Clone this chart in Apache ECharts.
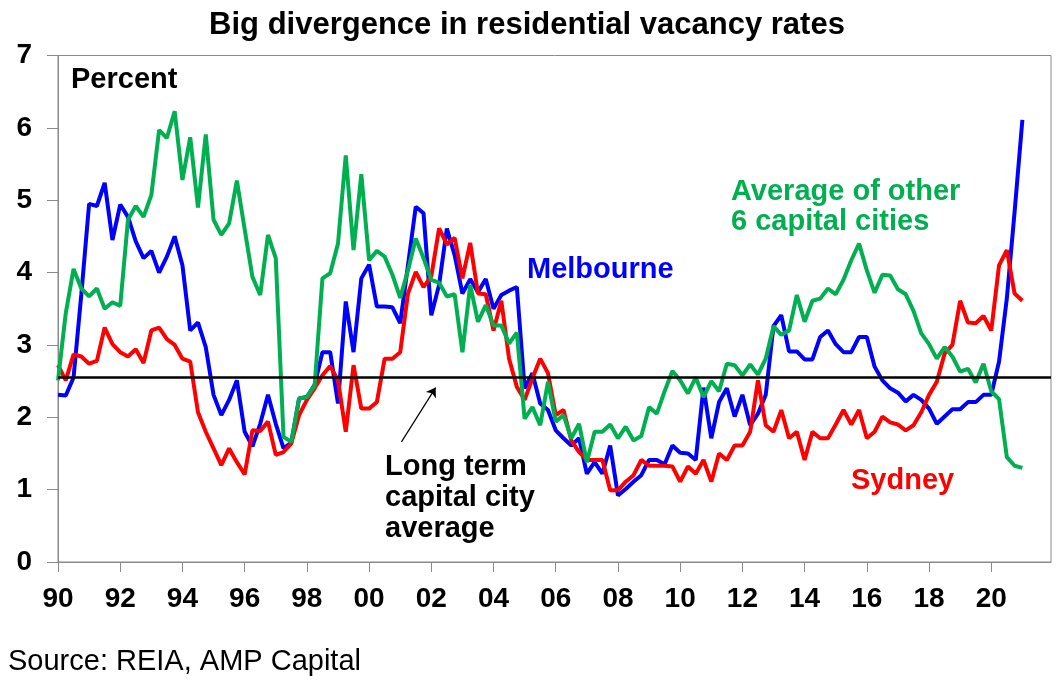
<!DOCTYPE html>
<html>
<head>
<meta charset="utf-8">
<script src="https://cdn.jsdelivr.net/npm/echarts@6.0.0/dist/echarts.min.js"></script>
<style>
  html, body { margin: 0; padding: 0; background: #fff; }
  #chart { width: 1062px; height: 687px; }
</style>
</head>
<body>
<div id="chart"></div>
<script>
// quarterly readings, first one is March quarter 1990
const startYear = 1990;

const melbourne = [
  2.31, 2.30, 2.55, 3.70, 4.95, 4.92, 5.24, 4.45, 4.94, 4.77,
  4.43, 4.20, 4.30, 4.00, 4.22, 4.50, 4.10, 3.20, 3.31, 2.97,
  2.31, 2.03, 2.24, 2.51, 1.80, 1.60, 1.91, 2.31, 1.91, 1.57,
  1.65, 2.26, 2.28, 2.45, 2.90, 2.90, 2.19, 3.60, 2.90, 3.92,
  4.11, 3.53, 3.53, 3.52, 3.30, 4.10, 4.91, 4.82, 3.41, 3.83,
  4.61, 4.24, 3.71, 3.91, 3.73, 3.91, 3.50, 3.69, 3.75, 3.80,
  2.40, 2.61, 2.19, 2.10, 1.82, 1.71, 1.61, 1.71, 1.22, 1.38,
  1.22, 1.61, 0.92, 1.01, 1.11, 1.20, 1.41, 1.41, 1.35, 1.61,
  1.51, 1.50, 1.41, 2.41, 1.71, 2.21, 2.40, 2.01, 2.31, 1.89,
  2.05, 2.31, 3.26, 3.41, 2.91, 2.91, 2.80, 2.80, 3.11, 3.20,
  3.01, 2.90, 2.90, 3.11, 3.11, 2.70, 2.51, 2.40, 2.34, 2.22,
  2.31, 2.24, 2.12, 1.91, 2.01, 2.11, 2.11, 2.21, 2.21, 2.31,
  2.31, 2.77, 3.64, 4.84, 6.11
];

const sydney = [
  2.72, 2.51, 2.87, 2.84, 2.74, 2.78, 3.24, 3.01, 2.90, 2.84,
  2.94, 2.75, 3.20, 3.24, 3.08, 3.00, 2.81, 2.77, 2.07, 1.80,
  1.57, 1.34, 1.57, 1.38, 1.21, 1.82, 1.81, 1.94, 1.48, 1.52,
  1.64, 2.03, 2.24, 2.40, 2.58, 2.71, 2.51, 1.80, 2.72, 2.12,
  2.12, 2.21, 2.81, 2.81, 2.90, 3.71, 4.01, 3.80, 3.95, 4.61,
  4.39, 4.48, 3.92, 4.41, 3.71, 3.70, 3.20, 3.61, 2.81, 2.42,
  2.24, 2.54, 2.81, 2.61, 2.03, 2.10, 1.68, 1.52, 1.41, 1.41,
  1.41, 0.99, 0.99, 1.11, 1.20, 1.41, 1.33, 1.33, 1.33, 1.32,
  1.11, 1.32, 1.22, 1.41, 1.11, 1.50, 1.41, 1.61, 1.61, 1.80,
  2.51, 1.89, 1.80, 2.10, 1.71, 1.80, 1.41, 1.80, 1.71, 1.71,
  1.90, 2.10, 1.90, 2.10, 1.71, 1.80, 2.01, 1.93, 1.90, 1.82,
  1.89, 2.07, 2.31, 2.49, 2.88, 3.00, 3.61, 3.31, 3.30, 3.40,
  3.20, 4.10, 4.31, 3.71, 3.61
];

const otherCapitals = [
  2.51, 3.44, 4.05, 3.78, 3.67, 3.78, 3.50, 3.59, 3.54, 4.73,
  4.92, 4.77, 5.07, 5.97, 5.86, 6.23, 5.28, 5.87, 4.90, 5.91,
  4.73, 4.52, 4.68, 5.27, 4.60, 3.94, 3.69, 4.52, 4.20, 1.73,
  1.66, 2.26, 2.28, 2.44, 3.92, 3.99, 4.40, 5.62, 4.31, 5.36,
  4.17, 4.30, 4.22, 3.97, 3.65, 4.03, 4.47, 4.20, 3.90, 3.86,
  3.67, 3.70, 2.90, 3.83, 3.32, 3.55, 3.27, 3.27, 3.02, 3.17,
  1.98, 2.14, 1.89, 2.49, 1.94, 2.03, 1.71, 1.91, 1.38, 1.80,
  1.80, 1.90, 1.71, 1.87, 1.68, 1.74, 2.14, 2.05, 2.36, 2.64,
  2.51, 2.33, 2.55, 2.28, 2.50, 2.36, 2.74, 2.72, 2.58, 2.73,
  2.59, 2.81, 3.26, 3.14, 3.20, 3.69, 3.32, 3.61, 3.64, 3.78,
  3.70, 3.90, 4.17, 4.40, 4.03, 3.72, 3.97, 3.96, 3.77, 3.70,
  3.47, 3.16, 3.01, 2.81, 2.97, 2.84, 2.63, 2.67, 2.48, 2.74,
  2.36, 2.25, 1.45, 1.33, 1.30
];

const longTermAverage = 2.55;
const arrowFrom = [2001.04, 1.66];
const arrowTo = [2002.14, 2.41];

const FONT = '"Liberation Sans", Arial, sans-serif';

function withYears(values) {
  return values.map((v, i) => [startYear + i * 0.25, v]);
}

const chart = echarts.init(document.getElementById('chart'));

const option = {
  animation: false,
  backgroundColor: '#fff',
  grid: {
    left: 58, top: 55.5, right: 11, bottom: 125,
    show: true, borderColor: '#8a8a8a', borderWidth: 1,
    backgroundColor: 'transparent',
  },
  xAxis: {
    type: 'value',
    min: 1990, max: 2021.92, interval: 2,
    axisLine: { lineStyle: { color: '#8a8a8a', width: 1 } },
    axisTick: { show: true, length: 10, lineStyle: { color: '#8a8a8a' } },
    splitLine: { show: false },
    axisLabel: {
      margin: 23,
      color: '#000',
      fontFamily: FONT, fontWeight: 'bold', fontSize: 28,
      showMaxLabel: false,
      formatter: (v) => (Number.isInteger(v) && v % 2 === 0) ? String(v % 100).padStart(2, '0') : '',
    },
  },
  yAxis: {
    type: 'value',
    min: 0, max: 7, interval: 1,
    axisLine: { show: true, lineStyle: { color: '#8a8a8a', width: 1 } },
    axisTick: { show: true, length: 11, lineStyle: { color: '#8a8a8a' } },
    splitLine: { show: false },
    axisLabel: {
      margin: 26,
      color: '#000',
      fontFamily: FONT, fontWeight: 'bold', fontSize: 28,
    },
  },
  series: [
    {
      name: 'Melbourne',
      type: 'line',
      data: withYears(melbourne),
      showSymbol: false,
      lineStyle: { color: '#0000ff', width: 4 },
      itemStyle: { color: '#0000ff' },
      z: 2,
    },
    {
      name: 'Sydney',
      type: 'line',
      data: withYears(sydney),
      showSymbol: false,
      lineStyle: { color: '#ff0000', width: 4 },
      itemStyle: { color: '#ff0000' },
      z: 3,
    },
    {
      name: 'Average of other 6 capital cities',
      type: 'line',
      data: withYears(otherCapitals),
      showSymbol: false,
      lineStyle: { color: '#00b050', width: 4 },
      itemStyle: { color: '#00b050' },
      z: 4,
      markLine: {
        silent: true,
        symbol: ['none', 'none'],
        label: { show: false },
        data: [
          {
            yAxis: longTermAverage,
            lineStyle: { color: '#000', width: 2.5, type: 'solid' },
          },
          [
            { coord: arrowFrom, symbol: 'none' },
            { coord: arrowTo, symbol: 'arrow', symbolSize: 9 },
          ],
        ],
        lineStyle: { color: '#000', width: 1.2, type: 'solid' },
        z: 5,
      },
    },
  ],
  graphic: [
    {
      type: 'text', x: 527, y: 25, z: 10,
      style: {
        text: 'Big divergence in residential vacancy rates',
        font: 'bold 31px ' + FONT, fill: '#000', align: 'center', verticalAlign: 'middle',
      },
    },
    {
      type: 'text', x: 71, y: 80, z: 10,
      style: { text: 'Percent', font: 'bold 29px ' + FONT, fill: '#000', align: 'left', verticalAlign: 'middle' },
    },
    {
      type: 'text', x: 527, y: 270, z: 10,
      style: { text: 'Melbourne', font: 'bold 29px ' + FONT, fill: '#0000ff', align: 'left', verticalAlign: 'middle' },
    },
    {
      type: 'text', x: 731, y: 207, z: 10,
      style: {
        text: 'Average of other\n6 capital cities', lineHeight: 30,
        font: 'bold 29px ' + FONT, fill: '#00b050', align: 'left', verticalAlign: 'middle',
      },
    },
    {
      type: 'text', x: 851, y: 481, z: 10,
      style: { text: 'Sydney', font: 'bold 29px ' + FONT, fill: '#ff0000', align: 'left', verticalAlign: 'middle' },
    },
    {
      type: 'text', x: 385, y: 498, z: 10,
      style: {
        text: 'Long term\ncapital city\naverage', lineHeight: 31,
        font: 'bold 29px ' + FONT, fill: '#000', align: 'left', verticalAlign: 'middle',
      },
    },
    {
      type: 'text', x: 8, y: 662, z: 10,
      style: { text: 'Source: REIA, AMP Capital', font: '29px ' + FONT, fill: '#000', align: 'left', verticalAlign: 'middle' },
    },
  ],
};

chart.setOption(option);
</script>
</body>
</html>
